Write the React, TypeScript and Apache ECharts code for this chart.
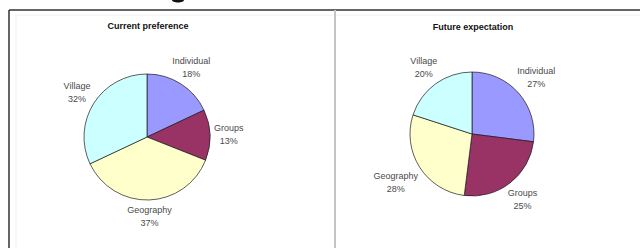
import React, { useEffect, useRef } from "react";
import * as echarts from "echarts";

const categories = ["Individual", "Groups", "Geography", "Village"];
const currentValues = [18, 13, 37, 32];
const futureValues = [27, 25, 28, 20];
const chartTitles = ["Current preference", "Future expectation"];
const sliceColors = ["#9999ff", "#993366", "#ffffcc", "#ccffff"];

const PIES = [
  { center: [147, 137], r: 63, values: currentValues },
  { center: [472, 134], r: 62, values: futureValues },
];

function midAngles(values: number[]) {
  const total = values.reduce((a, b) => a + b, 0);
  let acc = 0;
  return values.map((v) => {
    const mid = acc + v / 2;
    acc += v;
    return (Math.PI / 2) - (mid / total) * Math.PI * 2;
  });
}

export default function App() {
  const ref = useRef<HTMLDivElement>(null);
  useEffect(() => {
    if (!ref.current) return;
    const chart = echarts.init(ref.current, undefined, { renderer: "svg" });
    const font = "'Liberation Sans', Arial, sans-serif";
    const series = PIES.map((p) => {
      const angles = midAngles(p.values);
      return {
        type: "pie",
        center: p.center,
        radius: p.r,
        startAngle: 90,
        clockwise: true,
        avoidLabelOverlap: false,
        silent: true,
        data: categories.map((c, i) => ({
          name: c,
          value: p.values[i],
          itemStyle: { color: sliceColors[i] },
        })),
        itemStyle: { borderColor: "#1a1a1a", borderWidth: 0.7 },
        label: {
          show: true,
          position: "outside",
          formatter: "{b}\n{c}%",
          fontFamily: font,
          fontSize: 9,
          lineHeight: 13,
          color: "#4a4a4a",
        },
        labelLine: { show: false },
        labelLayout: (params: any) => {
          const a = angles[params.dataIndex];
          const dx = Math.cos(a);
          const dy = -Math.sin(a);
          const w = params.labelRect.width;
          const h = params.labelRect.height;
          const t = Math.min(
            Math.abs(dx) > 1e-6 ? w / 2 / Math.abs(dx) : 1e9,
            Math.abs(dy) > 1e-6 ? h / 2 / Math.abs(dy) : 1e9
          );
          const d = p.r + 4 + t;
          return {
            x: p.center[0] + dx * d,
            y: p.center[1] + dy * d,
            align: "center",
            verticalAlign: "middle",
          };
        },
      };
    });
    chart.setOption({
      animation: false,
      backgroundColor: "#ffffff",
      graphic: [
        { type: "line", shape: { x1: 9, y1: 10, x2: 640, y2: 10 }, style: { stroke: "#333", lineWidth: 1.5 } },
        { type: "line", shape: { x1: 9, y1: 10, x2: 9, y2: 248 }, style: { stroke: "#333", lineWidth: 1.5 } },
        { type: "line", shape: { x1: 16, y1: 15, x2: 640, y2: 15 }, style: { stroke: "#f0f0f0", lineWidth: 1 } },
        { type: "line", shape: { x1: 16, y1: 15, x2: 16, y2: 248 }, style: { stroke: "#f0f0f0", lineWidth: 1 } },
        { type: "line", shape: { x1: 335, y1: 10, x2: 335, y2: 248 }, style: { stroke: "#c4c4c4", lineWidth: 2 } },
        { type: "ellipse", shape: { cx: 178, cy: 0, rx: 6, ry: 2.5 }, style: { fill: "#111" } },
        {
          type: "text",
          x: 148,
          y: 26,
          style: { text: chartTitles[0], font: `bold 9px ${font}`, fill: "#111", align: "center", verticalAlign: "middle" },
        },
        {
          type: "text",
          x: 473,
          y: 27,
          style: { text: chartTitles[1], font: `bold 9px ${font}`, fill: "#111", align: "center", verticalAlign: "middle" },
        },
      ],
      series,
    });
    return () => chart.dispose();
  }, []);
  return (
    <div
      ref={ref}
      style={{ position: "fixed", left: 0, top: 0, width: 640, height: 248 }}
    />
  );
}
